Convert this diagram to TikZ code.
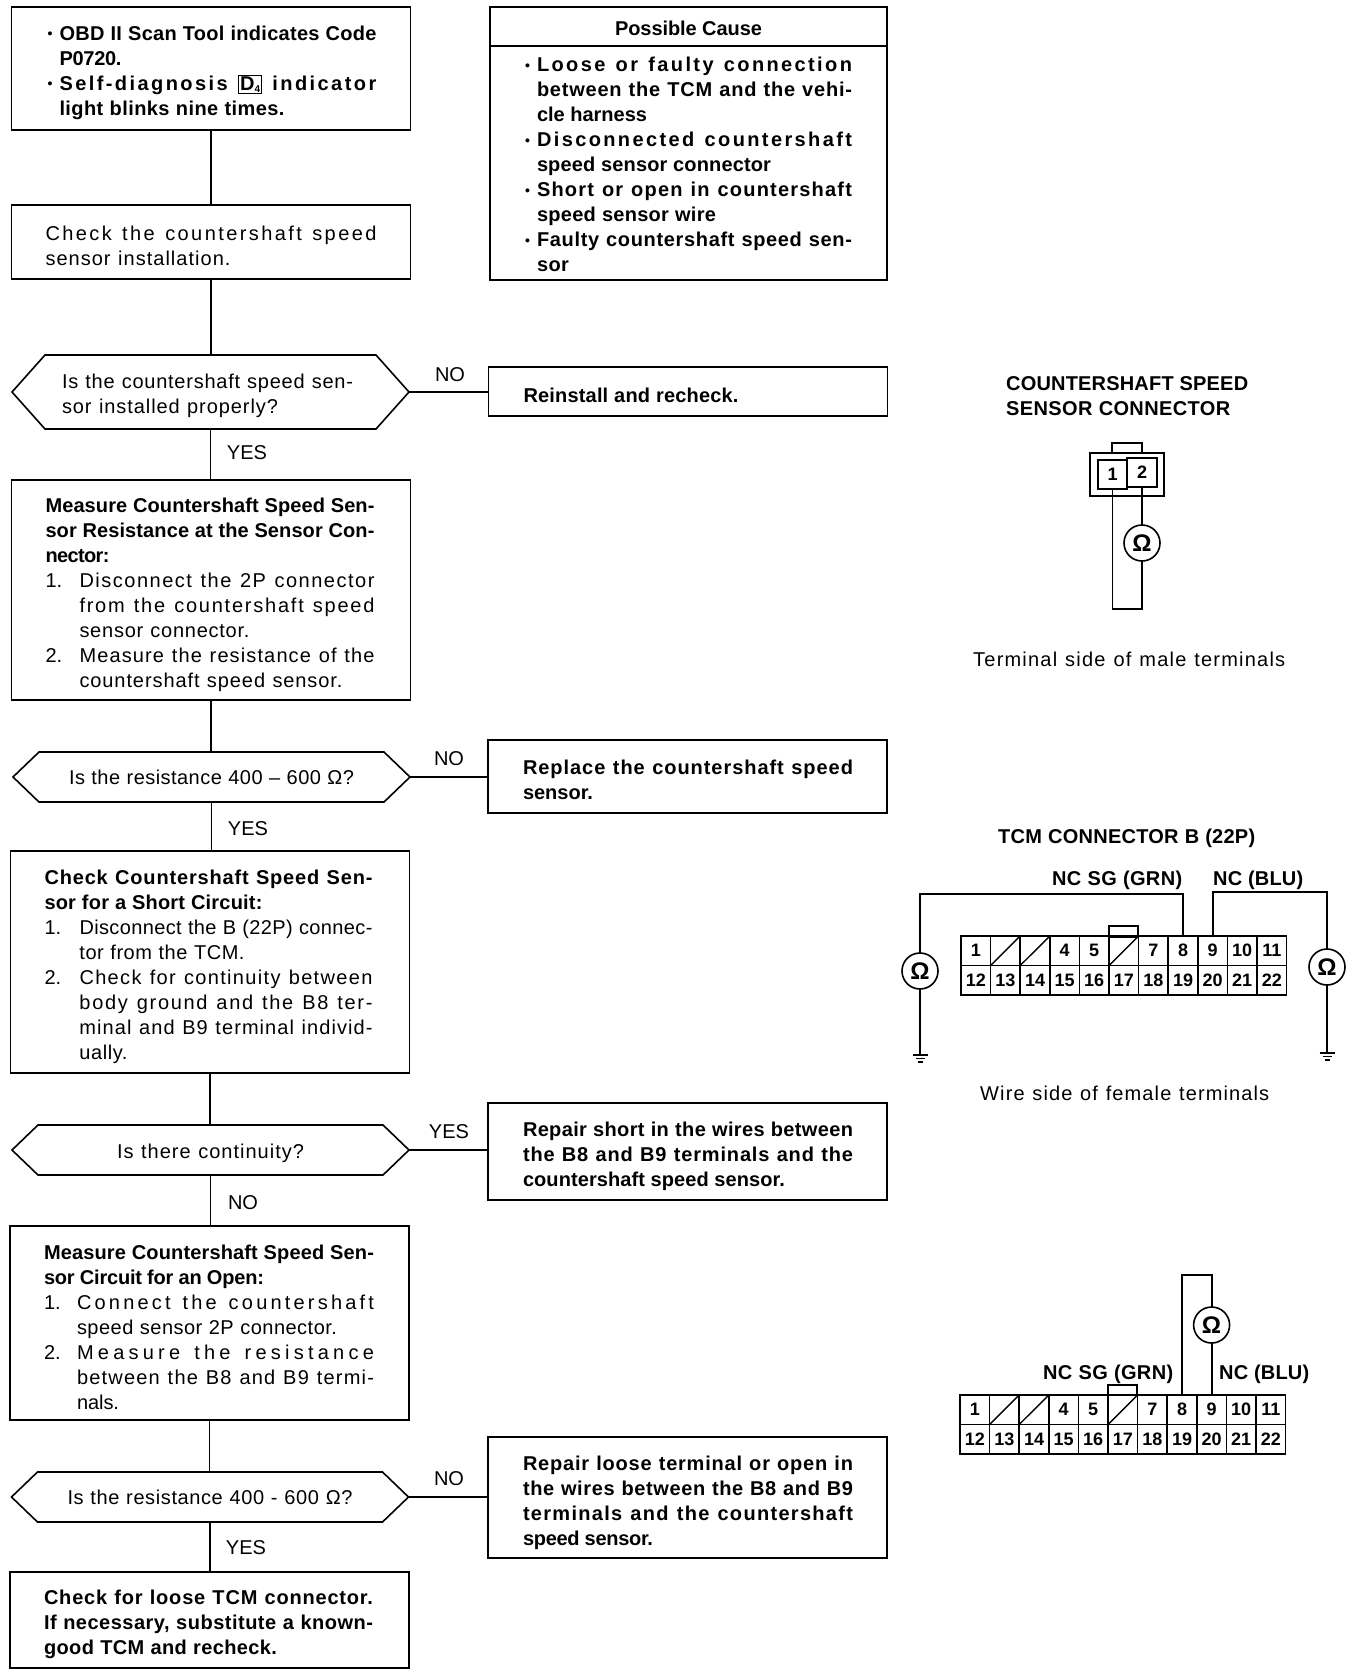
\documentclass[tikz,border=0pt]{standalone}
\usepackage{fontspec}
\setmainfont{Liberation Sans}
\newlength\fitnat
\newsavebox\fitbox
\ExplSyntaxOn
\NewExpandableDocumentCommand{\strcnt}{m}{\str_count:n{#1}}
\ExplSyntaxOff
\newcommand\fitapply[1]{\pgfmathsetmacro\fitls{5*\fitd}\addfontfeature{LetterSpace=\fitls}\spaceskip=\dimexpr\fontdimen2\font+\fitd pt\relax #1}
\newcommand\fitc[3]{\leavevmode\settowidth\fitnat{#3}%
  \pgfmathsetmacro\fitd{(#2-\fitnat)/max(#1-1,1)}%
  \sbox\fitbox{\fitapply{#3}}\fitnat=\wd\fitbox
  \pgfmathsetmacro\fitd{\fitd+(#2-\fitnat)/max(#1-1,1)}%
  \hbox{\fitapply{#3}}}
\newcommand\fit[2]{\edef\fitn{\strcnt{#2}}\fitc{\fitn}{#1}{#2}}
\newcommand\bfit[2]{{\bfseries\fit{#1}{#2}}}
\newcommand\ind[1]{\leavevmode\hspace*{#1pt}}
\newcommand\lab[2]{\leavevmode\makebox[#1pt][l]{#2}}
\newcommand\bul{\lab{14}{\hspace*{2pt}\raisebox{1.5pt}{\fontsize{14}{14}\selectfont\bfseries •}}}
\newcommand\dfour{{\setlength\fboxsep{1pt}\setlength\fboxrule{0.9pt}\fbox{D\raisebox{-2pt}{\fontsize{10}{10}\selectfont 4}}}}
\tikzset{
  basefont/.style={font=\fontsize{20}{25}\selectfont},
  tdown/.style={execute at begin node={\leavevmode\rule{0pt}{\dimexpr 15pt+#1\relax}}},
  flowbox/.style={draw,line width=1.6pt,basefont,outer sep=0pt,inner xsep=34pt,inner ysep=0pt,text width=331pt,align=left,minimum height=#1},
  rightbox/.style={flowbox=#1,inner xsep=35pt,text width=329pt},
  dectext/.style={basefont,outer sep=0pt,inner xsep=50pt,inner ysep=0pt,text width=297pt,minimum height=#1},
  conn/.style={line width=1.5pt},
  ylab/.style={basefont,inner sep=0pt},
  title/.style={basefont,inner sep=0pt,align=left},
  term/.style={draw,line width=1.6pt,minimum width=29.6pt,minimum height=29.5pt,inner sep=0pt,outer sep=0pt,font=\fontsize{18}{18}\selectfont\bfseries},
  meter/.style={circle,draw,line width=1.6pt,minimum size=36pt,inner sep=0pt,outer sep=0pt,font=\fontsize{24}{24}\selectfont\bfseries},
  wire/.style={line width=1.8pt},
  part/.style={draw,line width=1.6pt,inner sep=0pt,outer sep=0pt}
}
\newcommand\hexa[2]{\draw[line width=1.6pt,line join=miter] (#1.west) -- ([xshift=#2]#1.north west) -- ([xshift=-#2]#1.north east) -- (#1.east) -- ([xshift=-#2]#1.south east) -- ([xshift=#2]#1.south west) -- cycle;}
\newcommand\tcmgrid[3]{%
  \foreach \i/\t [evaluate=\i as \xc using #2+(\i-0.5)*29.6] in {1/1,2/,3/,4/4,5/5,6/,7/7,8/8,9/9,10/10,11/11}{
    \node[term] (#1\i) at (\xc,#3+14.75) {\t};}
  \foreach \i/\t [evaluate=\i as \xc using #2+(\i-11.5)*29.6] in {12/12,13/13,14/14,15/15,16/16,17/17,18/18,19/19,20/20,21/21,22/22}{
    \node[term] (#1\i) at (\xc,#3+44.25) {\t};}
  \foreach \i in {2,3,6}{\draw[line width=1.4pt] (#1\i.south west) -- (#1\i.north east);}
}
\newcommand\ground[1]{\draw[line width=1.4pt] ([xshift=-7.5]#1) -- ([xshift=7.5]#1) ([xshift=-4.5,yshift=-3.5]#1) -- ([xshift=4.5,yshift=-3.5]#1) ([xshift=-2.5,yshift=-7]#1) -- ([xshift=2.5,yshift=-7]#1);}
\begin{document}
\begin{tikzpicture}[x=1pt,y=-1pt]
\useasboundingbox (0,0) rectangle (1360,1676);
\fill[white] (0,0) rectangle (1360,1676);
% left column
\node[flowbox=123pt,tdown=8pt] (b1) at (211,68.5) {%
\bul\bfit{317}{OBD II Scan Tool indicates Code}\\
\ind{14}\bfit{62}{P0720.}\\
\bul{\bfseries\fitc{27}{317}{Self-diagnosis \dfour{} indicator}}\\
\ind{14}\bfit{225}{light blinks nine times.}};
\node[flowbox=74pt,tdown=7pt] (b2) at (211,242) {%
\fit{331}{Check the countershaft speed}\\
\fit{185}{sensor installation.}};
\node[dectext=74pt,align=left,tdown=7pt] (d1) at (210.5,392) {%
\fit{291}{Is the countershaft speed sen-}\\
\fit{216}{sor installed properly?}};
\node[flowbox=220pt,tdown=9pt] (b3) at (211,590) {%
\bfit{329}{Measure Countershaft Speed Sen-}\\
\bfit{329}{sor Resistance at the Sensor Con-}\\
\bfit{64}{nector:}\\
\lab{34}{1.}\fit{295}{Disconnect the 2P connector}\\
\ind{34}\fit{295}{from the countershaft speed}\\
\ind{34}\fit{170}{sensor connector.}\\
\lab{34}{2.}\fit{295}{Measure the resistance of the}\\
\ind{34}\fit{263}{countershaft speed sensor.}};
\node[dectext=50pt,align=center] (d2) at (211.5,777) {%
\fit{285}{Is the resistance 400 – 600 Ω?}};
\node[flowbox=222pt,tdown=9pt] (b4) at (210,962) {%
\bfit{328}{Check Countershaft Speed Sen-}\\
\bfit{218}{sor for a Short Circuit:}\\
\lab{35}{1.}\fit{293}{Disconnect the B (22P) connec-}\\
\ind{35}\fit{165}{tor from the TCM.}\\
\lab{35}{2.}\fit{293}{Check for continuity between}\\
\ind{35}\fit{293}{body ground and the B8 ter-}\\
\ind{35}\fit{293}{minal and B9 terminal individ-}\\
\ind{35}\fit{48}{ually.}};
\node[dectext=50pt,align=center,tdown=7pt] (d3) at (210.5,1150) {%
\fit{187}{Is there continuity?}};
\node[flowbox=194pt,tdown=9pt] (b5) at (209.5,1323) {%
\bfit{330}{Measure Countershaft Speed Sen-}\\
\bfit{220}{sor Circuit for an Open:}\\
\lab{33}{1.}\fit{297}{Connect the countershaft}\\
\ind{33}\fit{260}{speed sensor 2P connector.}\\
\lab{33}{2.}\fit{297}{Measure the resistance}\\
\ind{33}\fit{297}{between the B8 and B9 termi-}\\
\ind{33}\fit{42}{nals.}};
\node[dectext=50pt,align=center] (d4) at (210,1497) {%
\fit{285}{Is the resistance 400 - 600 Ω?}};
\node[flowbox=96pt,tdown=8pt] (b6) at (209.5,1620) {%
\bfit{329}{Check for loose TCM connector.}\\
\bfit{329}{If necessary, substitute a known-}\\
\bfit{233}{good TCM and recheck.}};
\hexa{d1}{33}
\hexa{d2}{26}
\hexa{d3}{26}
\hexa{d4}{26}
% right column
\node[rightbox=39pt,align=center,tdown=3pt,text width=327pt] (ch) at (688.5,26.5) {\bfit{147}{Possible Cause}};
\node[rightbox=234pt,tdown=3pt,inner xsep=33pt,text width=331pt] (cb) at (688.5,163) {%
\bul\bfit{315}{Loose or faulty connection}\\
\ind{14}\bfit{315}{between the TCM and the vehi-}\\
\ind{14}\bfit{110}{cle harness}\\
\bul\bfit{315}{Disconnected countershaft}\\
\ind{14}\bfit{234}{speed sensor connector}\\
\bul\bfit{315}{Short or open in countershaft}\\
\ind{14}\bfit{179}{speed sensor wire}\\
\bul\bfit{315}{Faulty countershaft speed sen-}\\
\ind{14}\bfit{32}{sor}};
\node[rightbox=49pt,tdown=7pt] (r1) at (688,391.5) {\bfit{215}{Reinstall and recheck.}};
\node[rightbox=73pt,tdown=6pt] (r2) at (687.5,776.5) {%
\bfit{330}{Replace the countershaft speed}\\
\bfit{70}{sensor.}};
\node[rightbox=97pt,tdown=10pt] (r3) at (687.5,1151.5) {%
\bfit{330}{Repair short in the wires between}\\
\bfit{330}{the B8 and B9 terminals and the}\\
\bfit{262}{countershaft speed sensor.}};
\node[rightbox=121pt,tdown=11pt] (r4) at (687.5,1497.5) {%
\bfit{330}{Repair loose terminal or open in}\\
\bfit{330}{the wires between the B8 and B9}\\
\bfit{330}{terminals and the countershaft}\\
\bfit{130}{speed sensor.}};
% connectors
\draw[conn] (b1.south) -- (b1.south |- b2.north);
\draw[conn] (b2.south) -- (b2.south |- d1.north);
\draw[conn] (d1.south) -- (d1.south |- b3.north);
\draw[conn] (b3.south) -- (b3.south |- d2.north);
\draw[conn] (d2.south) -- (d2.south |- b4.north);
\draw[conn] (b4.south) -- (b4.south |- d3.north);
\draw[conn] (d3.south) -- (d3.south |- b5.north);
\draw[conn] (b5.south) -- (b5.south |- d4.north);
\draw[conn] (d4.south) -- (d4.south |- b6.north);
\draw[conn] (d1.east) -- (d1.east -| r1.west);
\draw[conn] (d2.east) -- (d2.east -| r2.west);
\draw[conn] (d3.east) -- (d3.east -| r3.west);
\draw[conn] (d4.east) -- (d4.east -| r4.west);
% branch labels
\node[ylab] (l1) at (450,375) {NO};
\node[ylab] (l2) at (247,453) {YES};
\node[ylab] (l3) at (449,759) {NO};
\node[ylab] (l4) at (248,829) {YES};
\node[ylab] (l5) at (449,1132) {YES};
\node[ylab] (l6) at (243,1203) {NO};
\node[ylab] (l7) at (449,1479) {NO};
\node[ylab] (l8) at (246,1548) {YES};
% sensor connector
\node[title,anchor=west] (t1) at (1006,396) {\bfit{242}{COUNTERSHAFT SPEED}\\\bfit{224}{SENSOR CONNECTOR}};
\node[part,minimum width=30pt,minimum height=10pt] (s0) at (1127,448) {};
\node[part,minimum width=74pt,minimum height=43pt] (s1) at (1127,474.5) {};
\node[term,minimum width=29pt,minimum height=29pt] (p1) at (1112.5,474.5) {1};
\node[term,minimum width=30pt,minimum height=29pt] (p2) at (1142,472.5) {2};
\node[meter] (m1) at (p2 |- 0,543) {Ω};
\coordinate (w1) at (1127,609);
\draw[wire] (p1.south) |- (w1) -| (m1.south);
\draw[wire] (p2.south) -- (m1.north);
\node[title,anchor=west] (c1) at (973,659) {\fit{312}{Terminal side of male terminals}};
% TCM connector B
\node[title,anchor=west] (t2) at (998,838) {\bfit{257}{TCM CONNECTOR B (22P)}};
\node[title,anchor=west] (n1) at (1052,880) {\bfit{130}{NC SG (GRN)}};
\node[title,anchor=west] (n2) at (1213,880) {\bfit{90}{NC (BLU)}};
\node[part,minimum width=29pt,minimum height=11pt] (tb1) at (1123.5,931.5) {};
\tcmgrid{a}{961}{936}
\node[meter] (m2) at (920,971) {Ω};
\node[meter] (m3) at (1327,967) {Ω};
\coordinate (g2) at (920,1055);
\coordinate (g3) at (1327,1053);
\coordinate (w2) at (1050,894);
\coordinate (w3) at (1270,892);
\draw[wire] (a8.north) |- (w2) -| (m2.north);
\draw[wire] (a9.north) |- (w3) -| (m3.north);
\draw[wire] (m2.south) -- (g2);
\draw[wire] (m3.south) -- (g3);
\ground{g2}
\ground{g3}
\node[title,anchor=west] (c2) at (980,1093) {\fit{289}{Wire side of female terminals}};
% lower grid
\node[title,anchor=west] (n3) at (1043,1374) {\bfit{130}{NC SG (GRN)}};
\node[title,anchor=west] (n4) at (1219,1374) {\bfit{90}{NC (BLU)}};
\node[part,minimum width=29pt,minimum height=10pt] (tb2) at (1122.5,1390) {};
\tcmgrid{c}{960}{1395}
\node[meter] (m4) at (c9 |- 0,1325) {Ω};
\coordinate (w4) at (1195,1275);
\draw[wire] (c8.north) |- (w4) -| (m4.north);
\draw[wire] (m4.south) -- (c9.north);
\end{tikzpicture}
\end{document}
